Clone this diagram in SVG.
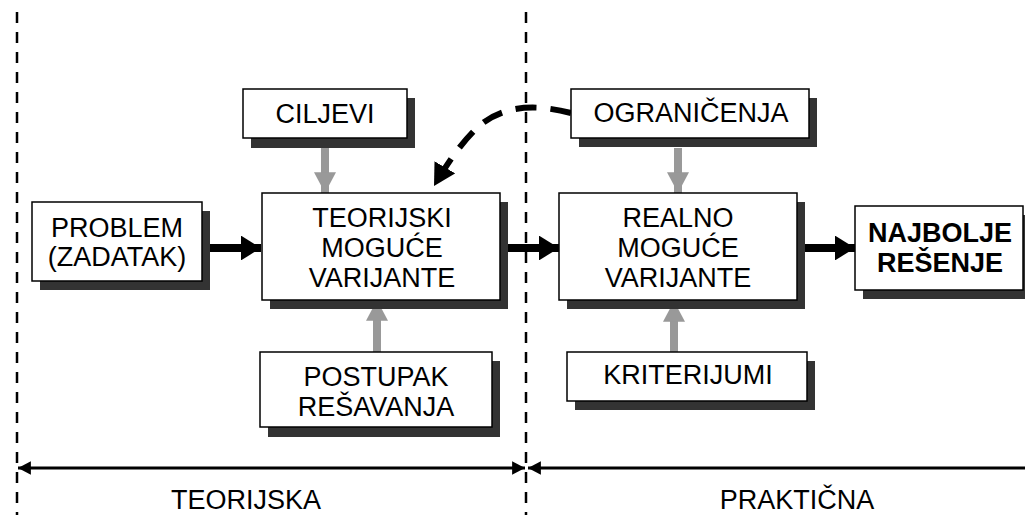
<svg xmlns="http://www.w3.org/2000/svg" width="1025" height="515" viewBox="0 0 1025 515">
  <style>
    .box { fill: #fff; stroke: #000; stroke-width: 1.5; }
    .shadow { fill: #333; }
    .t { font-family: "Liberation Sans", Arial, sans-serif; font-size: 27px; fill: #000; text-anchor: middle; }
    .b { font-weight: bold; }
    .divider { stroke: #000; stroke-width: 2.5; stroke-dasharray: 11 9; fill: none; }
    .flow { stroke: #000; stroke-width: 8; fill: none; }
    .input { stroke: #999; stroke-width: 8; fill: none; }
    .span { stroke: #000; stroke-width: 3; fill: none; }
  </style>
  <defs>
    <marker id="headBlack" viewBox="0 0 10 10" refX="10" refY="5" markerWidth="2.5" markerHeight="3.1" orient="auto" markerUnits="strokeWidth" preserveAspectRatio="none">
      <path d="M0,0 L10,5 L0,10 z" fill="#000"/>
    </marker>
    <marker id="headGrey" viewBox="0 0 10 10" refX="10" refY="5" markerWidth="2.6" markerHeight="2.75" orient="auto" markerUnits="strokeWidth" preserveAspectRatio="none">
      <path d="M0,0 L10,5 L0,10 z" fill="#999"/>
    </marker>
    <marker id="headSpan" viewBox="0 0 10 10" refX="10" refY="5" markerWidth="4.3" markerHeight="4.5" orient="auto-start-reverse" markerUnits="strokeWidth" preserveAspectRatio="none">
      <path d="M0,0 L10,5 L0,10 z" fill="#000"/>
    </marker>
    <marker id="headDash" viewBox="0 0 10 10" refX="10" refY="5" markerWidth="3.6" markerHeight="4" orient="auto" markerUnits="strokeWidth" preserveAspectRatio="none">
      <path d="M0,0 L10,5 L0,10 z" fill="#000"/>
    </marker>
  </defs>

  <!-- phase dividers -->
  <g id="dividers">
    <line class="divider" x1="17" y1="12" x2="17" y2="515"/>
    <line class="divider" x1="526" y1="12" x2="526" y2="515"/>
  </g>

  <!-- connectors -->
  <g id="connectors">
    <line class="flow" x1="209" y1="248" x2="261" y2="248" marker-end="url(#headBlack)"/>
    <line class="flow" x1="508" y1="248" x2="559" y2="248" marker-end="url(#headBlack)"/>
    <line class="flow" x1="805" y1="248" x2="855" y2="248" marker-end="url(#headBlack)"/>
    <line class="input" x1="325" y1="148" x2="325" y2="193" marker-end="url(#headGrey)"/>
    <line class="input" x1="678" y1="148" x2="678" y2="193" marker-end="url(#headGrey)"/>
    <line class="input" x1="377" y1="352" x2="377" y2="300" marker-end="url(#headGrey)"/>
    <line class="input" x1="674" y1="352" x2="674" y2="301" marker-end="url(#headGrey)"/>
    <path d="M571,113 C540,105 505,103 478,127 C462,142 448,162 434,186" stroke="#000" stroke-width="6" stroke-dasharray="21 14" fill="none" marker-end="url(#headDash)"/>
    <line class="span" x1="18" y1="468" x2="525" y2="468" marker-start="url(#headSpan)" marker-end="url(#headSpan)"/>
    <line class="span" x1="528" y1="468" x2="1025" y2="468" marker-start="url(#headSpan)"/>
  </g>

  <g id="problem">
    <rect class="shadow" x="40" y="211" width="170" height="79"/>
    <rect class="box" x="32" y="202" width="170" height="79"/>
    <text class="t" x="117" y="237">PROBLEM</text>
    <text class="t" x="117" y="266">(ZADATAK)</text>
  </g>

  <g id="ciljevi">
    <rect class="shadow" x="251" y="98" width="164" height="50"/>
    <rect class="box" x="243" y="89" width="164" height="49"/>
    <text class="t" x="325" y="123">CILJEVI</text>
  </g>

  <g id="teorijski">
    <rect class="shadow" x="270" y="202" width="238" height="107"/>
    <rect class="box" x="262" y="193" width="238" height="107"/>
    <text class="t" x="382" y="227">TEORIJSKI</text>
    <text class="t" x="382" y="257">MOGUĆE</text>
    <text class="t" x="382" y="287">VARIJANTE</text>
  </g>

  <g id="postupak">
    <rect class="shadow" x="268" y="361" width="232" height="76"/>
    <rect class="box" x="260" y="352" width="232" height="75"/>
    <text class="t" x="376" y="386">POSTUPAK</text>
    <text class="t" x="376" y="416">REŠAVANJA</text>
  </g>

  <g id="ogranicenja">
    <rect class="shadow" x="579" y="98" width="238" height="49"/>
    <rect class="box" x="571" y="89" width="238" height="49"/>
    <text class="t" x="691" y="122">OGRANIČENJA</text>
  </g>

  <g id="realno">
    <rect class="shadow" x="567" y="202" width="238" height="107"/>
    <rect class="box" x="559" y="193" width="238" height="107"/>
    <text class="t" x="678" y="227">REALNO</text>
    <text class="t" x="678" y="257">MOGUĆE</text>
    <text class="t" x="678" y="287">VARIJANTE</text>
  </g>

  <g id="kriterijumi">
    <rect class="shadow" x="575" y="361" width="240" height="49"/>
    <rect class="box" x="567" y="352" width="240" height="49"/>
    <text class="t" x="688" y="384">KRITERIJUMI</text>
  </g>

  <g id="najbolje">
    <rect class="shadow" x="863" y="215" width="168" height="84"/>
    <rect class="box" x="855" y="206" width="168" height="84"/>
    <text class="t b" x="940" y="242">NAJBOLJE</text>
    <text class="t b" x="940" y="272">REŠENJE</text>
  </g>

  <g id="phases">
    <text class="t" x="246" y="509">TEORIJSKA</text>
    <text class="t" x="797" y="509">PRAKTIČNA</text>
  </g>
</svg>
